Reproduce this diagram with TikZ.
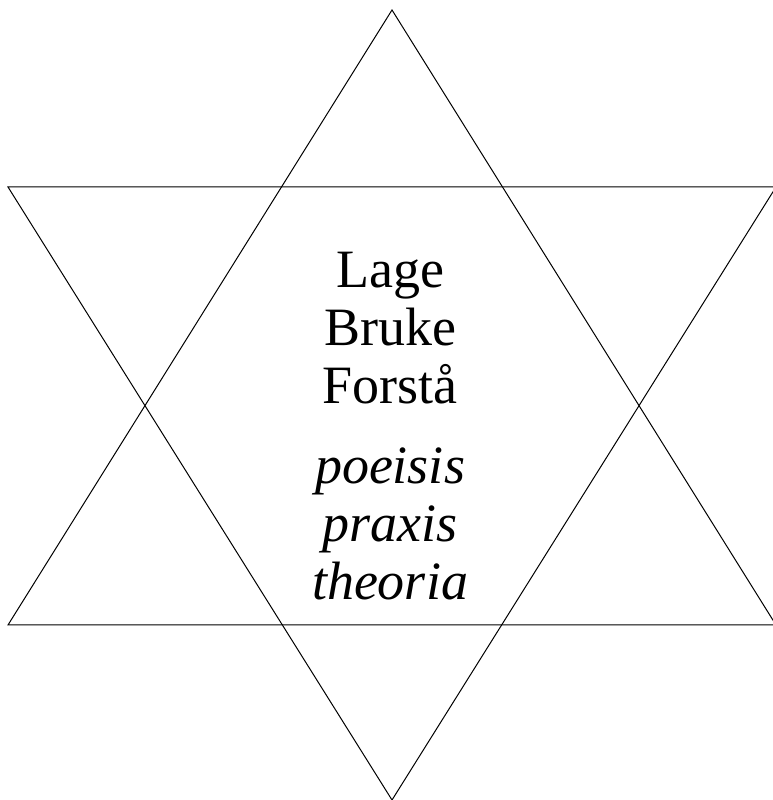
\documentclass[tikz,border=0pt]{standalone}
\usepackage{fontspec}
\setmainfont{Liberation Serif}

\begin{document}
\begin{tikzpicture}[
  x=1pt,y=1pt,
  edge/.style={draw,line width=1pt,line join=miter},
  words/.style={align=center,inner sep=0pt,font=\fontsize{54}{58}\selectfont}
]
\useasboundingbox (0,0) rectangle (773,800);

% upward triangle
\coordinate (upTop) at (392,790);
\coordinate (upLeft) at (8,175);
\coordinate (upRight) at (776,175);
% downward triangle
\coordinate (downLeft) at (8,613);
\coordinate (downRight) at (776,613);
\coordinate (downBottom) at (392,0);

\draw[edge] (upTop) -- (upLeft) -- (upRight) -- cycle;
\draw[edge] (downLeft) -- (downRight) -- (downBottom) -- cycle;

\node[words] (norsk) at (390,472) {Lage\\Bruke\\Forstå};
\node[words,font=\fontsize{54}{58}\selectfont\itshape] (gresk) at (390,276) {poeisis\\praxis\\theoria};
\end{tikzpicture}
\end{document}
